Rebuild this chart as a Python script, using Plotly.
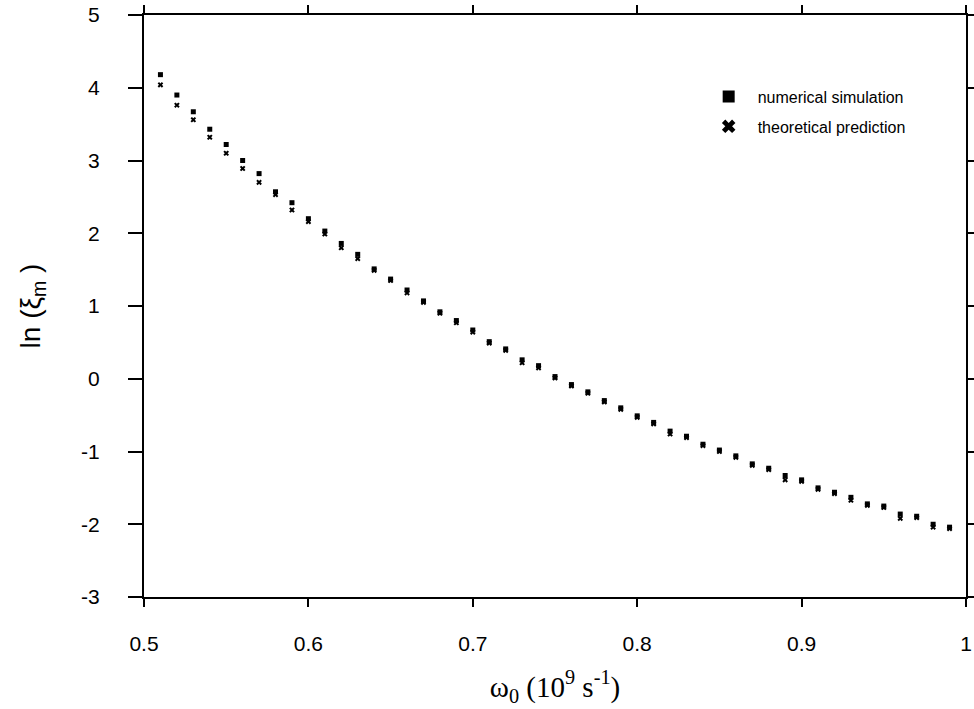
import plotly.graph_objects as go

# omega_0 (10^9 s^-1)
omega = [0.51, 0.52, 0.53, 0.54, 0.55, 0.56, 0.57, 0.58, 0.59, 0.60,
         0.61, 0.62, 0.63, 0.64, 0.65, 0.66, 0.67, 0.68, 0.69, 0.70,
         0.71, 0.72, 0.73, 0.74, 0.75, 0.76, 0.77, 0.78, 0.79, 0.80,
         0.81, 0.82, 0.83, 0.84, 0.85, 0.86, 0.87, 0.88, 0.89, 0.90,
         0.91, 0.92, 0.93, 0.94, 0.95, 0.96, 0.97, 0.98, 0.99]

numerical = [4.18, 3.90, 3.67, 3.43, 3.22, 3.00, 2.82, 2.57, 2.42, 2.20,
             2.03, 1.86, 1.71, 1.51, 1.37, 1.22, 1.07, 0.92, 0.80, 0.67,
             0.51, 0.41, 0.26, 0.18, 0.03, -0.08, -0.18, -0.30, -0.40, -0.51,
             -0.60, -0.72, -0.79, -0.90, -0.98, -1.06, -1.17, -1.23, -1.33, -1.39,
             -1.50, -1.56, -1.63, -1.72, -1.75, -1.86, -1.89, -2.00, -2.04]

theoretical = [4.04, 3.76, 3.56, 3.32, 3.10, 2.89, 2.70, 2.53, 2.32, 2.16,
               1.99, 1.80, 1.65, 1.49, 1.35, 1.18, 1.05, 0.90, 0.77, 0.64,
               0.49, 0.39, 0.22, 0.15, 0.01, -0.10, -0.20, -0.32, -0.42, -0.53,
               -0.62, -0.76, -0.81, -0.92, -1.00, -1.08, -1.19, -1.25, -1.39, -1.41,
               -1.52, -1.58, -1.67, -1.74, -1.77, -1.92, -1.91, -2.04, -2.06]

x_ticks = [0.5, 0.6, 0.7, 0.8, 0.9, 1.0]
x_tick_labels = ["0.5", "0.6", "0.7", "0.8", "0.9", "1"]
y_ticks = [-3, -2, -1, 0, 1, 2, 3, 4, 5]
y_tick_labels = ["-3", "-2", "-1", "0", "1", "2", "3", "4", "5"]

fig = go.Figure()
fig.add_trace(go.Scatter(
    x=omega, y=numerical, mode="markers", name="numerical simulation",
    legendgroup="a",
    marker=dict(symbol="square", size=5, color="black"),
))
fig.add_trace(go.Scatter(
    x=omega, y=theoretical, mode="markers", name="theoretical prediction",
    legendgroup="b",
    marker=dict(symbol="x", size=5, color="black"),
))

axis_common = dict(
    showline=True, linecolor="black", linewidth=2, mirror="ticks",
    ticks="outside", tickcolor="black", tickwidth=1.5,
    showgrid=False, zeroline=False, automargin=False,
)

fig.update_xaxes(
    range=[0.5, 1.0], tickvals=x_ticks, ticktext=x_tick_labels,
    ticklen=8, ticklabelstandoff=19,
    tickfont=dict(family="Liberation Sans, Arial, sans-serif", size=21, color="black"),
    title=dict(text="ω<sub>0</sub> (10<sup>9</sup> s<sup>-1</sup>)",
               font=dict(family="Liberation Serif, Times New Roman, serif", size=29, color="black"),
               standoff=22),
    **axis_common,
)
fig.update_yaxes(
    range=[-3, 5], tickvals=y_ticks, ticktext=y_tick_labels,
    ticklen=14, ticklabelstandoff=24,
    tickfont=dict(family="Liberation Sans, Arial, sans-serif", size=21, color="black"),
    title=dict(text="ln (ξ<sub>m</sub> )",
               font=dict(family="Liberation Sans, Arial, sans-serif", size=28, color="black"),
               standoff=32),
    **axis_common,
)

fig.update_layout(
    width=974, height=709,
    margin=dict(l=144, r=8, t=15, b=112),
    paper_bgcolor="white", plot_bgcolor="white",
    showlegend=True,
    legend=dict(
        x=0.676, y=0.889, xanchor="left", yanchor="top",
        bgcolor="rgba(0,0,0,0)", borderwidth=0,
        font=dict(family="Liberation Sans, Arial, sans-serif", size=16, color="black"),
        itemsizing="constant", itemwidth=48, tracegroupgap=6,
    ),
)

# remove the page's default 8px body margin so the figure fills the window exactly
fig.write_html(
    "out.html",
    config={"displayModeBar": False},
    post_script="document.body.style.margin='0';document.body.style.overflow='hidden';",
)
